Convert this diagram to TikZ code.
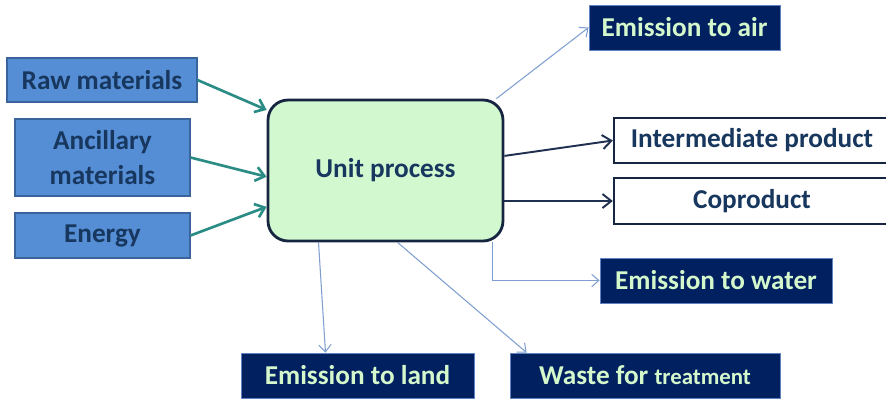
\documentclass[tikz,border=0pt]{standalone}
\usepackage{fontspec}
\setmainfont{Carlito}
\usepackage{tikz}
\usetikzlibrary{arrows.meta,positioning,calc}
\definecolor{inputfill}{HTML}{558ED5}
\definecolor{inputdraw}{HTML}{3A649C}
\definecolor{inputtext}{HTML}{17375E}
\definecolor{unitfill}{HTML}{D2F8D0}
\definecolor{unitdraw}{HTML}{172640}
\definecolor{emitfill}{HTML}{002060}
\definecolor{emittext}{HTML}{D4F7CC}
\definecolor{emitdraw}{HTML}{5F82C0}
\definecolor{feedline}{HTML}{2A8C84}
\definecolor{productline}{HTML}{1F3050}
\definecolor{emitline}{HTML}{7F9FD0}

\begin{document}
\begin{tikzpicture}[
  x=0.02cm, y=-0.02cm,
  inputbox/.style={draw=inputdraw, fill=inputfill, text=inputtext, line width=0.6pt,
                   align=center, font=\fontsize{15.5}{20}\selectfont\bfseries},
  emitbox/.style={draw=emitdraw, fill=emitfill, text=emittext, line width=0.5pt,
                  minimum height=0.9cm, font=\fontsize{15.5}{17}\selectfont\bfseries},
  productbox/.style={draw=unitdraw, fill=white, text=inputtext, line width=1.4pt,
                     minimum width=5.52cm, minimum height=0.9cm,
                     font=\fontsize{15.5}{17}\selectfont\bfseries},
  feed/.style={draw=feedline, line width=1.5pt, -{Straight Barb[length=5pt,width=8pt]}},
  output/.style={draw=productline, line width=1.1pt, -{Straight Barb[length=5pt,width=8pt]}},
  emission/.style={draw=emitline, line width=0.6pt, -{Straight Barb[length=4pt,width=7pt]}},
]
  \fill[white] (0,0) rectangle (886,400);
  \useasboundingbox (0,0) rectangle (886,400);

  \node[inputbox, minimum width=3.8cm, minimum height=0.88cm] (raw) at (102,80) {Raw materials};
  \node[inputbox, minimum width=3.5cm, minimum height=1.54cm] (ancillary) at (102.5,157.5) {Ancillary\\materials};
  \node[inputbox, minimum width=3.5cm, minimum height=0.9cm] (energy) at (102.5,235.5) {Energy};

  \node[draw=unitdraw, fill=unitfill, text=inputtext, line width=1.6pt, rounded corners=0.4cm,
        minimum width=4.7cm, minimum height=2.82cm, font=\fontsize{15.5}{17}\selectfont\bfseries]
        (unitprocess) at (385.5,170.5) {Unit process};

  \node[emitbox, minimum width=3.82cm] (air) at (684.5,27.5) {Emission to air};
  \node[productbox] (intermediate) at (752,140.5) {Intermediate product};
  \node[productbox, minimum height=0.92cm] (coproduct) at (752,201) {Coproduct};
  \node[emitbox, minimum width=4.64cm] (water) at (716,280.5) {Emission to water};
  \node[emitbox, minimum width=4.66cm] (land) at (357.5,375.5) {Emission to land};
  \node[emitbox, minimum width=5.4cm] (waste) at (645,375.5) {Waste for {\fontsize{13}{15}\selectfont treatment}};

  \draw[feed] (raw.east) -- (unitprocess.153);
  \draw[feed] (ancillary.east) -- (unitprocess.183);
  \draw[feed] (energy.east) -- (unitprocess.197);

  \draw[output] (unitprocess.7) -- (intermediate.west);
  \draw[output] (unitprocess.east |- coproduct.west) -- (coproduct.west);

  \draw[emission] ($(unitprocess.north east)+(-8,0)$) -- (air.west);
  \draw[emission] ($(unitprocess.south east)+(-12,0)$) |- (water.west);
  \draw[emission] ($(unitprocess.south)+(-67,0)$) -- ($(land.north)+(-32,0)$);
  \draw[emission] ($(unitprocess.south)+(12,0)$) -- ($(waste.north west)+(17,0)$);
\end{tikzpicture}
\end{document}
